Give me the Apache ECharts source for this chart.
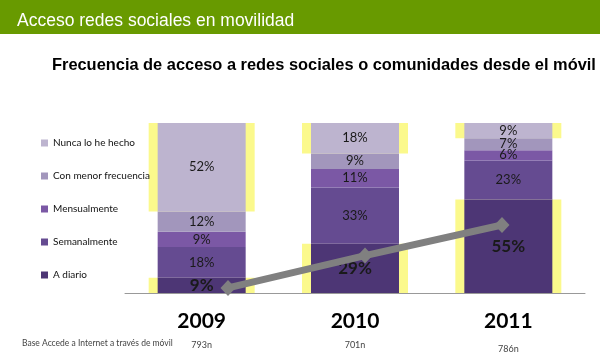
<!DOCTYPE html>
<html><head><meta charset="utf-8">
<script src="https://cdn.jsdelivr.net/npm/echarts@6/dist/echarts.min.js"></script>
<style>html,body{margin:0;padding:0;background:#fff}#c{width:600px;height:359px}</style>
</head><body><div id="c"></div>
<script>
const years = ['2009', '2010', '2011'];
const baseCounts = ['793n', '701n', '786n'];
const seriesNames = ['A diario', 'Semanalmente', 'Mensualmente', 'Con menor frecuencia', 'Nunca lo he hecho'];
const aDiario = [9, 29, 55];
const semanal = [18, 33, 23];
const mensual = [9, 11, 6];
const menorFrec = [12, 9, 7];
const nunca = [52, 18, 9];
const trendValues = [3, 22, 40];

const colors = ['#4d3675', '#654b91', '#7b58a5', '#a296bc', '#bdb4cf'];
const values = [aDiario, semanal, mensual, menorFrec, nunca];
const FONT = 'Lato';

const barSeries = seriesNames.map((n, i) => ({
  name: n, type: 'bar', stack: 'main', xAxisIndex: 0, yAxisIndex: 0,
  barWidth: 88, z: 3, data: values[i],
  itemStyle: { color: colors[i] },
  label: {
    show: true, position: 'inside', formatter: '{c}%', color: '#1a1a1a',
    fontFamily: FONT, fontSize: i === 0 ? 17 : 13, fontWeight: i === 0 ? 'bold' : 'normal'
  }
}));
const hlSeries = seriesNames.map((n, i) => ({
  name: 'hl' + i, type: 'bar', stack: 'hl', xAxisIndex: 1, yAxisIndex: 0,
  barWidth: 106, z: 1, data: values[i], silent: true,
  itemStyle: { color: (i === 0 || i === 4) ? '#fbf98c' : 'rgba(0,0,0,0)' }
}));

const chart = echarts.init(document.getElementById('c'));
chart.setOption({
  animation: false,
  backgroundColor: '#fff',
  title: [
    { text: 'Acceso redes sociales en movilidad', left: 12, top: 7,
      textStyle: { color: '#fff', fontFamily: 'Liberation Sans', fontSize: 17.5, fontWeight: 'normal' } },
    { text: 'Frecuencia de acceso a redes sociales o comunidades desde el móvil', left: 47, top: 52,
      textStyle: { color: '#000', fontFamily: 'Liberation Sans', fontSize: 16.4, fontWeight: 'bold' } }
  ],
  graphic: [
    { type: 'rect', left: 0, top: 0, z: -10, shape: { width: 600, height: 34 }, style: { fill: '#689a00' } },
    { type: 'text', left: 22, top: 339, style: { text: 'Base Accede a Internet a través de móvil', fill: '#444', font: '8.5px Lato' } }
  ],
  legend: {
    orient: 'vertical', left: 36, top: 132, itemWidth: 7, itemHeight: 7, itemGap: 21,
    icon: 'rect',
    data: ['Nunca lo he hecho', 'Con menor frecuencia', 'Mensualmente', 'Semanalmente', 'A diario'],
    textStyle: { fontFamily: FONT, fontSize: 10, color: '#111', lineHeight: 12 },
    selectedMode: false
  },
  grid: [
    { left: 125, right: 15, top: 123, bottom: 66 },
    { left: 228, right: 98, top: 123, bottom: 66 }
  ],
  xAxis: [
    { type: 'category', gridIndex: 0, data: years,
      axisLine: { lineStyle: { color: '#999', width: 1 } }, axisTick: { show: false },
      axisLabel: {
        margin: 16,
        formatter: (v, i) => '{y|' + v + '}\n' + (i === 2 ? '{n2|' : '{n|') + baseCounts[i] + '}',
        rich: {
          y: { fontFamily: FONT, fontSize: 21, fontWeight: 'bold', color: '#000', lineHeight: 24 },
          n: { fontFamily: FONT, fontSize: 9, color: '#444', lineHeight: 24 },
          n2: { fontFamily: FONT, fontSize: 9, color: '#444', lineHeight: 32 }
        }
      } },
    { type: 'category', gridIndex: 0, data: years, show: false },
    { type: 'category', gridIndex: 1, data: years, boundaryGap: false, show: false }
  ],
  yAxis: [
    { type: 'value', gridIndex: 0, min: 0, max: 100, show: false },
    { type: 'value', gridIndex: 1, min: 0, max: 100, show: false }
  ],
  series: [
    ...hlSeries,
    ...barSeries,
    { name: 'trend', type: 'line', xAxisIndex: 2, yAxisIndex: 1, data: trendValues, z: 10,
      symbol: 'diamond', symbolSize: [15, 16], showSymbol: true,
      lineStyle: { color: '#808080', width: 7 }, itemStyle: { color: '#808080' }, label: { show: false } }
  ]
});
</script></body></html>
